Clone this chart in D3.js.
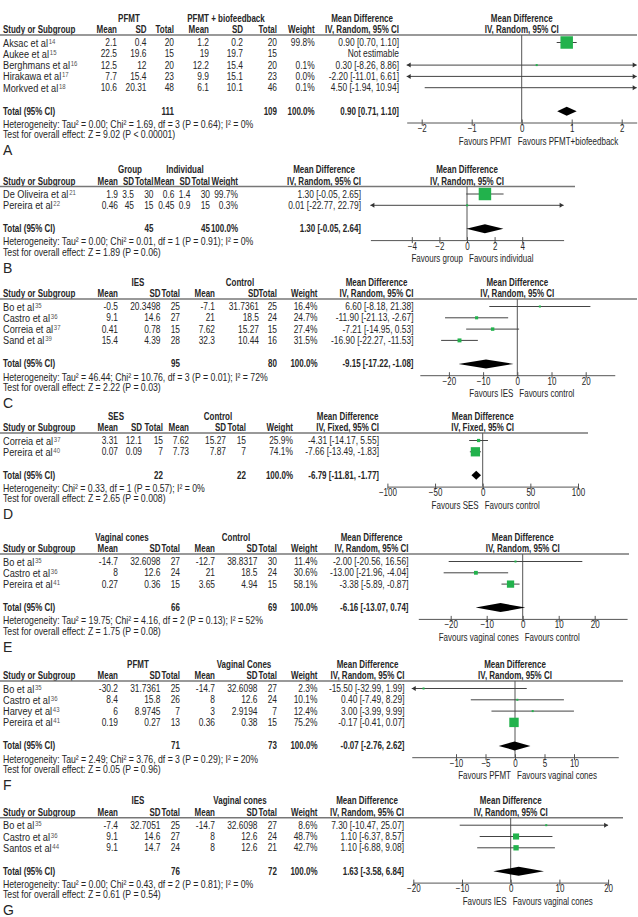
<!DOCTYPE html>
<html>
<head>
<meta charset="utf-8">
<script src="https://cdn.jsdelivr.net/npm/d3@7"></script>
<style>
  body { margin: 0; background: #fff; }
  svg { display: block; font-family: "Liberation Sans", Arial, sans-serif; }
</style>
</head>
<body>
<script>
// rows: study, ref, mean1, sd1, n1, mean2, sd2, n2, weight %, MD, lower, upper
var studiesA = [
  ["Aksac et al", "14", 2.1, 0.4, 20, 1.2, 0.2, 20, 99.8, 0.90, 0.70, 1.10],
  ["Aukee et al", "15", 22.5, 19.6, 15, 19, 19.7, 15, null, null, null, null],
  ["Berghmans et al", "16", 12.5, 12, 20, 12.2, 15.4, 20, 0.1, 0.30, -8.26, 8.86],
  ["Hirakawa et al", "17", 7.7, 15.4, 23, 9.9, 15.1, 23, 0.0, -2.20, -11.01, 6.61],
  ["Morkved et al", "18", 10.6, 20.31, 48, 6.1, 10.1, 46, 0.1, 4.50, -1.94, 10.94]
];
var studiesB = [
  ["De Oliveira et al", "21", 1.9, 3.5, 30, 0.6, 1.4, 30, 99.7, 1.30, -0.05, 2.65],
  ["Pereira et al", "22", 0.46, 45, 15, 0.45, 0.9, 15, 0.3, 0.01, -22.77, 22.79]
];
var studiesC = [
  ["Bo et al", "35", -0.5, 20.3498, 25, -7.1, 31.7361, 25, 16.4, 6.60, -8.18, 21.38],
  ["Castro et al", "36", 9.1, 14.6, 27, 21, 18.5, 24, 24.7, -11.90, -21.13, -2.67],
  ["Correia et al", "37", 0.41, 0.78, 15, 7.62, 15.27, 15, 27.4, -7.21, -14.95, 0.53],
  ["Sand et al", "39", 15.4, 4.39, 28, 32.3, 10.44, 16, 31.5, -16.90, -22.27, -11.53]
];
var studiesD = [
  ["Correia et al", "37", 3.31, 12.1, 15, 7.62, 15.27, 15, 25.9, -4.31, -14.17, 5.55],
  ["Pereira et al", "40", 0.07, 0.09, 7, 7.73, 7.87, 7, 74.1, -7.66, -13.49, -1.83]
];
var studiesE = [
  ["Bo et al", "35", -14.7, 32.6098, 27, -12.7, 38.8317, 30, 11.4, -2.00, -20.56, 16.56],
  ["Castro et al", "36", 8, 12.6, 24, 21, 18.5, 24, 30.6, -13.00, -21.96, -4.04],
  ["Pereira et al", "41", 0.27, 0.36, 15, 3.65, 4.94, 15, 58.1, -3.38, -5.89, -0.87]
];
var studiesF = [
  ["Bo et al", "35", -30.2, 31.7361, 25, -14.7, 32.6098, 27, 2.3, -15.50, -32.99, 1.99],
  ["Castro et al", "36", 8.4, 15.8, 26, 8, 12.6, 24, 10.1, 0.40, -7.49, 8.29],
  ["Harvey et al", "43", 6, 8.9745, 7, 3, 2.9194, 7, 12.4, 3.00, -3.99, 9.99],
  ["Pereira et al", "41", 0.19, 0.27, 13, 0.36, 0.38, 15, 75.2, -0.17, -0.41, 0.07]
];
var studiesG = [
  ["Bo et al", "35", -7.4, 32.7051, 25, -14.7, 32.6098, 27, 8.6, 7.30, -10.47, 25.07],
  ["Castro et al", "36", 9.1, 14.6, 27, 8, 12.6, 24, 48.7, 1.10, -6.37, 8.57],
  ["Santos et al", "44", 9.1, 14.7, 24, 8, 12.6, 21, 42.7, 1.10, -6.88, 9.08]
];

// totals: n1, n2, MD, lower, upper
var totalsA = [111, 109, 0.90, 0.71, 1.10];
var totalsB = [45, 45, 1.30, -0.05, 2.64];
var totalsC = [95, 80, -9.15, -17.22, -1.08];
var totalsD = [22, 22, -6.79, -11.81, -1.77];
var totalsE = [66, 69, -6.16, -13.07, 0.74];
var totalsF = [71, 73, -0.07, -2.76, 2.62];
var totalsG = [76, 72, 1.63, -3.58, 6.84];

var groupsA = ["PFMT", "PFMT + biofeedback"];
var groupsB = ["Group", "Individual"];
var groupsC = ["IES", "Control"];
var groupsD = ["SES", "Control"];
var groupsE = ["Vaginal cones", "Control"];
var groupsF = ["PFMT", "Vaginal Cones"];
var groupsG = ["IES", "Vaginal cones"];

var favoursA = ["Favours PFMT", "Favours PFMT+biofeedback"];
var favoursB = ["Favours group", "Favours individual"];
var favoursC = ["Favours IES", "Favours control"];
var favoursD = ["Favours SES", "Favours control"];
var favoursE = ["Favours vaginal cones", "Favours control"];
var favoursF = ["Favours PFMT", "Favours vaginal cones"];
var favoursG = ["Favours IES", "Favours vaginal cones"];

var ticksA = [-2, -1, 0, 1, 2];
var ticksB = [-4, -2, 0, 2, 4];
var ticksC = [-20, -10, 0, 10, 20];
var ticksD = [-100, -50, 0, 50, 100];
var ticksE = [-20, -10, 0, 10, 20];
var ticksF = [-10, -5, 0, 5, 10];
var ticksG = [-20, -10, 0, 10, 20];

var hetA = ["Heterogeneity: Tau² = 0.00; Chi² = 1.69, df = 3 (P = 0.64); I² = 0%", "Test for overall effect: Z = 9.02 (P < 0.00001)"];
var hetB = ["Heterogeneity: Tau² = 0.00; Chi² = 0.01, df = 1 (P = 0.91); I² = 0%", "Test for overall effect: Z = 1.89 (P = 0.06)"];
var hetC = ["Heterogeneity: Tau² = 46.44; Chi² = 10.76, df = 3 (P = 0.01); I² = 72%", "Test for overall effect: Z = 2.22 (P = 0.03)"];
var hetD = ["Heterogeneity: Chi² = 0.33, df = 1 (P = 0.57); I² = 0%", "Test for overall effect: Z = 2.65 (P = 0.008)"];
var hetE = ["Heterogeneity: Tau² = 19.75; Chi² = 4.16, df = 2 (P = 0.13); I² = 52%", "Test for overall effect: Z = 1.75 (P = 0.08)"];
var hetF = ["Heterogeneity: Tau² = 2.49; Chi² = 3.76, df = 3 (P = 0.29); I² = 20%", "Test for overall effect: Z = 0.05 (P = 0.96)"];
var hetG = ["Heterogeneity: Tau² = 0.00; Chi² = 0.43, df = 2 (P = 0.81); I² = 0%", "Test for overall effect: Z = 0.61 (P = 0.54)"];

var randomCI = "IV, Random, 95% CI", fixedCI = "IV, Fixed, 95% CI";

// layout of each panel (header line y, column right edges, group centres, zero x, px per unit, axis extent)
var panels = [
  { letter: "A", studies: studiesA, totals: totalsA, groups: groupsA, favours: favoursA, ticks: ticksA, het: hetA, method: randomCI,
    line: 35, lineEnd: 637, cols: [117, 146.5, 174, 209, 243, 277, 314.6, 399], gc: [129, 226], x0: 521.7, k: 50, ext: [-2.3, 2.3], favShift: -6 },
  { letter: "B", studies: studiesB, totals: totalsB, groups: groupsB, favours: favoursB, ticks: ticksB, het: hetB, method: randomCI,
    line: 186.5, lineEnd: 575, cols: [118, 134, 153.5, 174.5, 190.5, 210, 238, 361], gc: [130, 185], x0: 467, k: 13.8, ext: [-7, 7], favShift: 0 },
  { letter: "C", studies: studiesC, totals: totalsC, groups: groupsC, favours: favoursC, ticks: ticksC, het: hetC, method: randomCI,
    line: 299, lineEnd: 637, cols: [118, 160.5, 180, 215, 259, 277, 317.5, 413.5], gc: [138, 240], x0: 517.3, k: 3.42, ext: [-28.5, 28.5], favShift: 0 },
  { letter: "D", studies: studiesD, totals: totalsD, groups: groupsD, favours: favoursD, ticks: ticksD, het: hetD, method: fixedCI,
    line: 433, lineEnd: 588, cols: [118, 142, 163, 189, 226, 246, 293, 379], gc: [116, 218], x0: 482.7, k: 0.953, ext: [-100, 100], favShift: 0 },
  { letter: "E", studies: studiesE, totals: totalsE, groups: groupsE, favours: favoursE, ticks: ticksE, het: hetE, method: randomCI,
    line: 554, lineEnd: 629, cols: [118, 160.5, 180, 215, 257.5, 277, 317.5, 408.5], gc: [122, 236], x0: 522.7, k: 3.6, ext: [-29, 29], favShift: 0 },
  { letter: "F", studies: studiesF, totals: totalsF, groups: groupsF, favours: favoursF, ticks: ticksF, het: hetF, method: randomCI,
    line: 681, lineEnd: 623, cols: [118, 160.5, 180, 215, 257.5, 277, 317.5, 404.5], gc: [138, 244], x0: 515, k: 5.9, ext: [-17.5, 17.5], favShift: 0 },
  { letter: "G", studies: studiesG, totals: totalsG, groups: groupsG, favours: favoursG, ticks: ticksG, het: hetG, method: randomCI,
    line: 817.7, lineEnd: 623, cols: [118, 160.5, 180, 215, 257.5, 277, 317.5, 404], gc: [138, 240], x0: 510.7, k: 4.87, ext: [-20, 20], favShift: 0 }
];

var green = "#22b24c", ink = "#262626", grey = "#555";
var FS = 10.5;      // body text size
var squeeze = 0.8;  // the source uses a narrow face

var svg = d3.select("body").append("svg")
  .attr("width", 638)
  .attr("height", 917);

svg.append("rect").attr("width", 638).attr("height", 917).attr("fill", "#fff");

function txt(g, x, y, s, anchor, size, bold, sx) {
  return g.append("text")
    .attr("transform", "translate(" + x + "," + y + ") scale(" + (sx || squeeze) + ",1)")
    .attr("dy", "0.35em")
    .attr("text-anchor", anchor || "start")
    .attr("font-size", size || FS)
    .attr("font-weight", bold ? "bold" : "normal")
    .attr("fill", ink)
    .text(s);
}

function head(g, x, y, s, anchor) {
  return txt(g, x, y, s, anchor, 10, true, 0.8);
}

function ciText(md, lo, hi) {
  return md.toFixed(2) + " [" + lo.toFixed(2) + ", " + hi.toFixed(2) + "]";
}

// square side grows with the study weight
var sq = d3.scaleLinear().domain([0, 100]).range([0, 12.5]);

function drawPanel(p) {
  var g = svg.append("g");
  var L = p.line, c = p.cols;
  var rowY = function (i) { return L + 7.5 + i * 11.3; };
  var lastY = rowY(p.studies.length - 1);
  var totY = lastY + 23.5, axisY = totY + 11.3;

  var x = d3.scaleLinear()
    .domain(p.ext)
    .range([p.x0 + p.ext[0] * p.k, p.x0 + p.ext[1] * p.k]);

  // headers
  head(g, 3, L - 5.5, "Study or Subgroup", "start");
  ["Mean", "SD", "Total", "Mean", "SD", "Total", "Weight"].forEach(function (h, i) {
    head(g, c[i], L - 5.5, h, "end");
  });
  var iv = head(g, c[7], L - 5.5, p.method, "end");
  var ivw = iv.node().getBBox().width * 0.8;
  head(g, c[7] - ivw / 2, L - 17, "Mean Difference", "middle");
  head(g, p.gc[0], L - 17, p.groups[0], "middle");
  head(g, p.gc[1], L - 17, p.groups[1], "middle");
  head(g, p.x0, L - 17, "Mean Difference", "middle");
  head(g, p.x0, L - 5.5, p.method, "middle");

  g.append("line")
    .attr("x1", 0).attr("x2", p.lineEnd)
    .attr("y1", L).attr("y2", L)
    .attr("stroke", "#777").attr("stroke-width", 1.5);

  // zero line
  g.append("line")
    .attr("x1", x(0)).attr("x2", x(0))
    .attr("y1", L).attr("y2", axisY)
    .attr("stroke", grey).attr("stroke-width", 1);

  // study rows
  p.studies.forEach(function (d, i) {
    var y = rowY(i);
    var t = txt(g, 3, y, d[0], "start", 11.5);
    t.append("tspan").attr("font-size", 7.5).attr("dy", -3).attr("dx", 1).attr("fill", "#555").text(d[1]);

    for (var j = 0; j < 6; j++) txt(g, c[j], y, String(d[2 + j]), "end");
    if (d[9] === null) {
      txt(g, c[7], y, "Not estimable", "end");
      return;
    }
    txt(g, c[6], y, d[8].toFixed(1) + "%", "end");
    txt(g, c[7], y, ciText(d[9], d[10], d[11]), "end");

    var lo = Math.max(d[10], p.ext[0]), hi = Math.min(d[11], p.ext[1]);
    g.append("line")
      .attr("x1", x(lo)).attr("x2", x(hi))
      .attr("y1", y).attr("y2", y)
      .attr("stroke", "#444").attr("stroke-width", 1);
    if (d[10] < p.ext[0]) {
      var xl = x(p.ext[0]);
      g.append("path").attr("d", "M" + xl + "," + y + "l4,-2.5v5z").attr("fill", "#333");
    }
    if (d[11] > p.ext[1]) {
      var xr = x(p.ext[1]);
      g.append("path").attr("d", "M" + xr + "," + y + "l-4,-2.5v5z").attr("fill", "#333");
    }
    var s = Math.max(2, sq(d[8]));
    if (d[9] >= p.ext[0] && d[9] <= p.ext[1] && d[8] > 0) {
      g.append("rect")
        .attr("x", x(d[9]) - s / 2).attr("y", y - s / 2)
        .attr("width", s).attr("height", s)
        .attr("fill", green);
    }
  });

  // total row
  var tt = p.totals;
  head(g, 3, totY, "Total (95% CI)", "start");
  head(g, c[2], totY, String(tt[0]), "end");
  head(g, c[5], totY, String(tt[1]), "end");
  head(g, c[6], totY, "100.0%", "end");
  head(g, c[7], totY, ciText(tt[2], tt[3], tt[4]), "end");
  g.append("path")
    .attr("d", "M" + x(tt[3]) + "," + totY +
      "L" + x(tt[2]) + "," + (totY - 4.5) +
      "L" + x(tt[4]) + "," + totY +
      "L" + x(tt[2]) + "," + (totY + 4.5) + "Z")
    .attr("fill", "#000");

  // heterogeneity
  txt(g, 3, totY + 13, p.het[0], "start", FS, false, 0.83);
  txt(g, 3, totY + 23.5, p.het[1], "start", FS, false, 0.83);

  // axis
  var ax = g.append("g")
    .attr("transform", "translate(0," + axisY + ")")
    .call(d3.axisBottom(x).tickValues(p.ticks).tickSizeInner(3).tickSizeOuter(0).tickFormat(d3.format("d")));
  ax.select(".domain").attr("stroke", grey);
  ax.selectAll(".tick line").attr("y1", -3).attr("stroke", grey);
  ax.selectAll(".tick text")
    .attr("y", 2.5).attr("font-size", 10).attr("fill", ink)
    .attr("font-family", "'Liberation Sans',Arial,sans-serif")
    .attr("transform", "scale(" + squeeze + ",1)");

  txt(g, x(0) - 4 + p.favShift, axisY + 18.5, p.favours[0], "end", 10);
  txt(g, x(0) + 2 + p.favShift, axisY + 18.5, p.favours[1], "start", 10);

  // panel letter
  txt(g, 3, totY + 39, p.letter, "start", 14, false, 1);
}

panels.forEach(drawPanel);
</script>
</body>
</html>
